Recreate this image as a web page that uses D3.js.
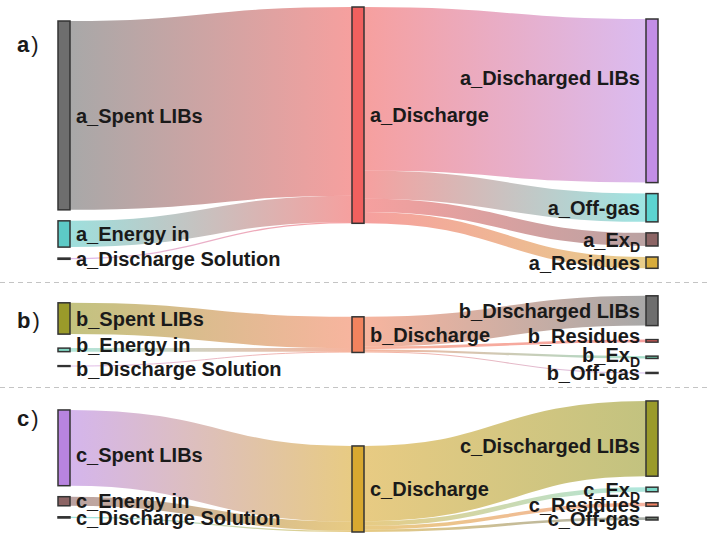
<!DOCTYPE html>
<html>
<head>
<meta charset="utf-8">
<script src="https://cdn.jsdelivr.net/npm/d3@7"></script>
<style>
  body { margin: 0; background: #fff; }
  svg { display: block; }
  .lbl { font-family: "Liberation Sans", Arial, sans-serif; font-weight: bold; font-size: 20px; fill: #1a1a1a; }
</style>
</head>
<body>
<div id="chart"></div>
<script>
// Data: three discharge scenarios (a, b, c), inputs -> Discharge -> outputs
const panelKeys = ["a", "b", "c"];
const inputLabels = ["Spent LIBs", "Energy in", "Discharge Solution"];
const processLabel = "Discharge";

const inputsA = [187, 26, 1.2];
const inputsB = [31, 3.5, 0.8];
const inputsC = [75, 9, 1.2];

const outputLabelsA = ["Discharged LIBs", "Off-gas", "ExD", "Residues"];
const outputsA = [162, 28, 13, 11.2];
const outputLabelsB = ["Discharged LIBs", "Residues", "ExD", "Off-gas"];
const outputsB = [29.5, 2.5, 2.3, 1.0];
const outputLabelsC = ["Discharged LIBs", "ExD", "Residues", "Off-gas"];
const outputsC = [74.5, 4.5, 3.5, 2.7];

// Node colours per panel
const colors = {
  a: { "Spent LIBs": "#6e6e6e", "Energy in": "#5dcac6", "Discharge Solution": "#c990e0",
       "Discharge": "#f0605e", "Discharged LIBs": "#c28ee6", "Off-gas": "#5cd3d0",
       "ExD": "#8c6464", "Residues": "#d8ac3c" },
  b: { "Spent LIBs": "#9a9a2a", "Energy in": "#80d6c2", "Discharge Solution": "#c990e0",
       "Discharge": "#f2835e", "Discharged LIBs": "#6e6e6e", "Residues": "#f0605e",
       "ExD": "#6ccaa8", "Off-gas": "#b890e0" },
  c: { "Spent LIBs": "#b884e0", "Energy in": "#8c6464", "Discharge Solution": "#5cd3d0",
       "Discharge": "#d8a830", "Discharged LIBs": "#9a9a2a", "ExD": "#7ad8c8",
       "Residues": "#f08060", "Off-gas": "#707a70" }
};

const inputs = { a: inputsA, b: inputsB, c: inputsC };
const outputs = { a: outputsA, b: outputsB, c: outputsC };
const outputLabels = { a: outputLabelsA, b: outputLabelsB, c: outputLabelsC };

// Layout settings
const width = 709, height = 536;
const nodeWidth = 12;
const nodePad = { a: 11, b: 14, c: 11 };
const columnSpans = [[21, 518], [7, 532], [19, 520]];
// small vertical nudges for labels that would otherwise collide
const labelNudge = {
  "a_Discharged LIBs": -23, "c_Spent LIBs": 7, "c_Discharged LIBs": 7,
  "b_Energy in": -5, "b_Discharge Solution": 3, "b_Residues": -5, "b_ExD": -2
};

const svg = d3.select("#chart").append("svg")
  .attr("width", width)
  .attr("height", height);

// Build nodes and links
const nodes = [];
const links = [];
panelKeys.forEach(p => {
  const mid = { panel: p, name: processLabel, col: 1, value: d3.sum(inputs[p]) };
  nodes.push(mid);
  inputLabels.forEach((name, i) => {
    const n = { panel: p, name, col: 0, value: inputs[p][i] };
    nodes.push(n);
    links.push({ source: n, target: mid, value: inputs[p][i] });
  });
  outputLabels[p].forEach((name, i) => {
    const n = { panel: p, name, col: 2, value: outputs[p][i] };
    nodes.push(n);
    links.push({ source: mid, target: n, value: outputs[p][i] });
  });
});
nodes.forEach(n => {
  n.color = colors[n.panel][n.name];
  n.id = n.panel + "_" + n.name;
  n.sourceLinks = []; n.targetLinks = [];
});
links.forEach(l => { l.source.sourceLinks.push(l); l.target.targetLinks.push(l); });

// Scales
const x = d3.scaleLinear().domain([0, 2]).range([58, 646]);
const colTotal = d3.max([0, 1, 2], c => d3.sum(nodes.filter(n => n.col === c), n => n.value));
const ky = d3.scaleLinear().domain([0, colTotal]).range([0, 338]);

// Column layout: nodes stacked per panel group, groups spread over the column span
[0, 1, 2].forEach(c => {
  const span = columnSpans[c];
  const groups = panelKeys.map(p => nodes.filter(n => n.col === c && n.panel === p));
  const groupH = groups.map(g => d3.sum(g, n => ky(n.value)) + (g.length - 1) * nodePad[g[0].panel]);
  const gap = (span[1] - span[0] - d3.sum(groupH)) / (groups.length - 1);
  let y = span[0];
  groups.forEach(g => {
    const pad = nodePad[g[0].panel];
    g.forEach(n => {
      n.x0 = x(c); n.x1 = n.x0 + nodeWidth;
      n.y0 = y; n.y1 = y + ky(n.value);
      y = n.y1 + pad;
    });
    y = y - pad + gap;
  });
});

// Link breadths
nodes.forEach(n => {
  n.sourceLinks.sort((a, b) => a.target.y0 - b.target.y0);
  n.targetLinks.sort((a, b) => a.source.y0 - b.source.y0);
  let ys = n.y0, yt = n.y0;
  n.sourceLinks.forEach(l => { l.width = ky(l.value); l.y0 = ys + l.width / 2; ys += l.width; });
  n.targetLinks.forEach(l => { l.width = ky(l.value); l.y1 = yt + l.width / 2; yt += l.width; });
});

// Separators between panels
const panelExtent = panelKeys.map(p => d3.extent(nodes.filter(n => n.panel === p).flatMap(n => [n.y0, n.y1])));
const sepY = i => Math.round((panelExtent[i - 1][1] + panelExtent[i][0]) / 2) + 0.5;
svg.append("g")
  .selectAll("line")
  .data(d3.range(1, panelKeys.length))
  .join("line")
  .attr("x1", 0).attr("x2", width)
  .attr("y1", sepY)
  .attr("y2", sepY)
  .attr("stroke", "#c4c4c4")
  .attr("stroke-width", 1)
  .attr("stroke-dasharray", "5,4");

// Gradients
const defs = svg.append("defs");
links.forEach((l, i) => {
  l.gid = "grad" + i;
  const g = defs.append("linearGradient")
    .attr("id", l.gid)
    .attr("gradientUnits", "userSpaceOnUse")
    .attr("x1", l.source.x1).attr("x2", l.target.x0)
    .attr("y1", 0).attr("y2", 0);
  g.append("stop").attr("offset", "0%").attr("stop-color", l.source.color);
  g.append("stop").attr("offset", "100%").attr("stop-color", l.target.color);
});

// Links
const linkPath = d3.linkHorizontal()
  .source(d => [d.source.x1, d.y0])
  .target(d => [d.target.x0, d.y1]);

svg.append("g")
  .attr("fill", "none")
  .selectAll("path")
  .data(links)
  .join("path")
  .attr("d", linkPath)
  .attr("stroke", d => `url(#${d.gid})`)
  .attr("stroke-opacity", 0.6)
  .attr("stroke-width", d => Math.max(1, d.width));

// Nodes
svg.append("g")
  .selectAll("rect")
  .data(nodes)
  .join("rect")
  .attr("x", d => d.x0)
  .attr("y", d => d.y0)
  .attr("width", nodeWidth)
  .attr("height", d => Math.max(0.5, d.y1 - d.y0))
  .attr("fill", d => d.color)
  .attr("stroke", "#333")
  .attr("stroke-width", 1.5);

// Labels
const label = svg.append("g")
  .selectAll("text")
  .data(nodes)
  .join("text")
  .attr("class", "lbl")
  .attr("x", d => d.col === 2 ? d.x0 - 6 : d.x1 + 6)
  .attr("y", d => (d.y0 + d.y1) / 2 + (labelNudge[d.id] || 0))
  .attr("dy", "0.36em")
  .attr("text-anchor", d => d.col === 2 ? "end" : "start");

label.each(function (d) {
  const t = d3.select(this);
  if (d.name === "ExD") {
    t.append("tspan").text(d.panel + "_Ex");
    t.append("tspan").attr("font-size", "14px").attr("dy", "5").text("D");
  } else {
    t.text(d.id);
  }
});

// Panel letters
const letterY = [52, 328, 426];
const letters = svg.append("g")
  .selectAll("text")
  .data(panelKeys)
  .join("text")
  .attr("x", 17)
  .attr("y", (d, i) => letterY[i])
  .attr("font-family", "Liberation Sans, Arial, sans-serif")
  .attr("font-size", "22px")
  .attr("fill", "#1a1a1a");
letters.append("tspan").attr("font-weight", "bold").text(d => d);
letters.append("tspan").attr("dx", 2).text(")");
</script>
</body>
</html>
